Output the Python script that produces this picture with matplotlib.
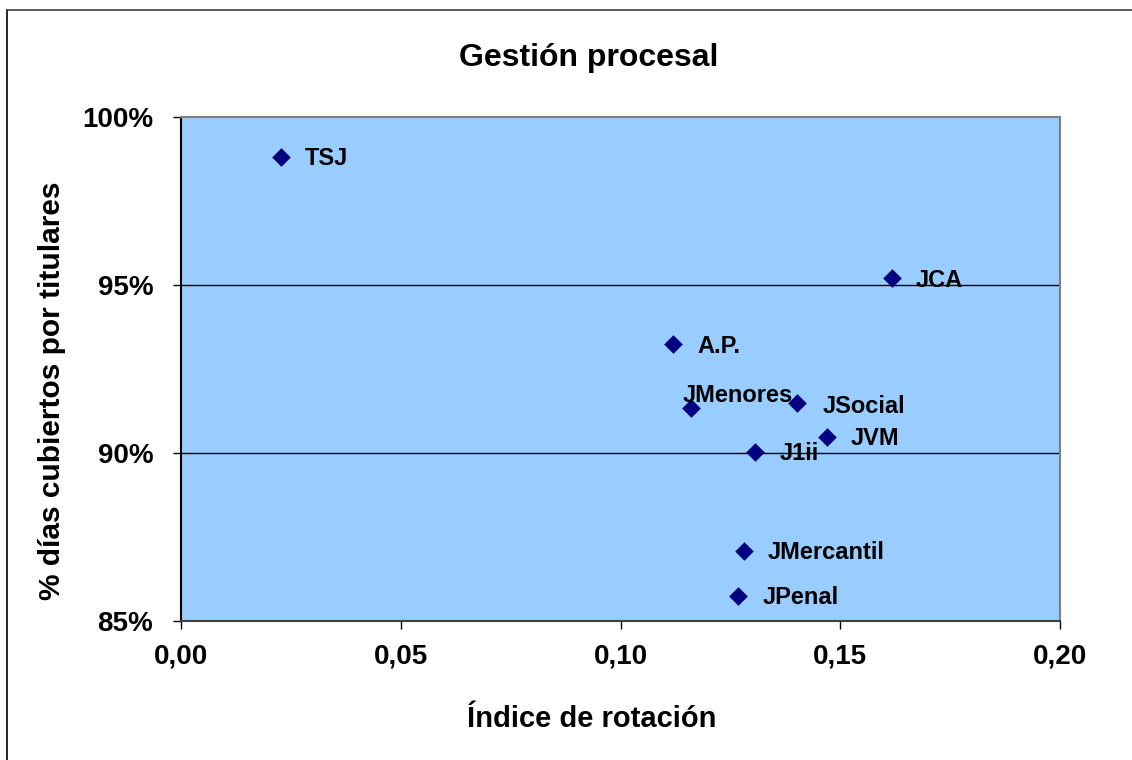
import matplotlib.pyplot as plt
from matplotlib.lines import Line2D
from matplotlib.ticker import FuncFormatter

plt.rcParams['font.family'] = ['Liberation Sans', 'DejaVu Sans']
plt.rcParams['font.weight'] = 'bold'

# data
organos = ['TSJ', 'JCA', 'A.P.', 'JMenores', 'JSocial', 'JVM', 'J1ii', 'JMercantil', 'JPenal']
rotacion = [0.0227, 0.1618, 0.1120, 0.1161, 0.1402, 0.1470, 0.1307, 0.1280, 0.1268]
cubiertos = [98.81, 95.20, 93.23, 91.35, 91.50, 90.49, 90.04, 87.09, 85.75]

x_ticks = [0.00, 0.05, 0.10, 0.15, 0.20]
y_ticks = [85, 90, 95, 100]

# label offsets in pixels (Excel moved JMenores above its point)
offsets = {'JMenores': (-9, 12), 'JSocial': (25, -4)}

W, H = 1132, 760
fig = plt.figure(figsize=(W / 100, H / 100), dpi=100)
ax = fig.add_axes([181 / W, 1 - 621 / H, 879 / W, 504 / H])
ax.set_facecolor('#99CCFF')

for y in [90, 95]:
    ax.axhline(y, color='black', lw=1, zorder=1)

ax.scatter(rotacion, cubiertos, marker='D', s=90, color='#000080', zorder=3, linewidths=0)

for name, x, y in zip(organos, rotacion, cubiertos):
    dx, dy = offsets.get(name, (24, -2))
    ax.annotate(name, (x, y), xytext=(dx, dy), textcoords='offset pixels',
                fontsize=17, fontweight='bold', ha='left', va='center', zorder=4)

ax.set_xlim(0, 0.20)
ax.set_ylim(85, 100)
ax.set_xticks(x_ticks)
ax.set_yticks(y_ticks)
ax.xaxis.set_major_formatter(FuncFormatter(lambda v, p: f'{v:.2f}'.replace('.', ',')))
ax.yaxis.set_major_formatter(FuncFormatter(lambda v, p: f'{v:.0f}%'))
ax.tick_params(direction='out', length=6, width=1, labelsize=20, color='black')
ax.tick_params(axis='x', pad=10)
ax.tick_params(axis='y', pad=14)
for lbl in ax.get_xticklabels() + ax.get_yticklabels():
    lbl.set_fontweight('bold')

for side in ['top', 'right']:
    ax.spines[side].set_color('#808080')
ax.spines['left'].set_color('black')
ax.spines['bottom'].set_color('#404040')
for s in ax.spines.values():
    s.set_linewidth(1.5)

# titles placed like Excel does (centred on the chart area, not the plot)
fig.text(589 / W, 1 - 66 / H, 'Gestión procesal', fontsize=23, fontweight='bold',
         ha='center', va='baseline')
fig.text(592 / W, 1 - 727 / H, 'Índice de rotación', fontsize=21, fontweight='bold',
         ha='center', va='baseline')
fig.text(52 / W, 1 - 391 / H, '% días cubiertos por titulares', fontsize=21.5,
         fontweight='bold', rotation=90, ha='center', va='center')

# outer chart border (left and top visible)
fig.add_artist(Line2D([7 / W, 7 / W], [0, 1 - 10 / H], color='black', lw=1.2))
fig.add_artist(Line2D([7 / W, 1], [1 - 10 / H, 1 - 10 / H], color='#404040', lw=1.2))

fig.savefig('out.png', dpi=100)
